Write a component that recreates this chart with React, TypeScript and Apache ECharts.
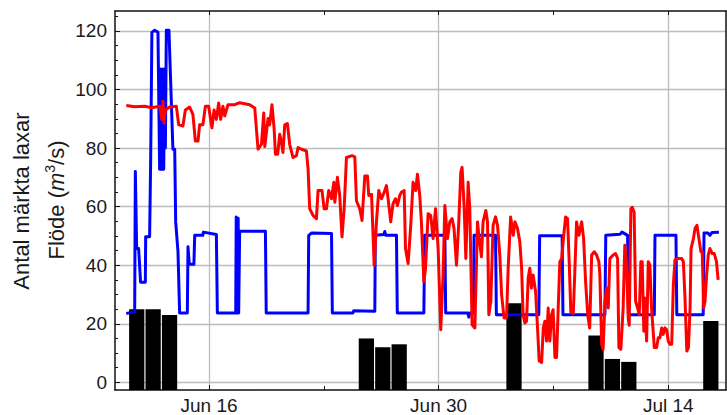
import { useEffect, useRef } from 'react';
import * as echarts from 'echarts';

// x values are days counted in June (Jun 16 = 16, Jul 14 = 44)
const X_MIN = 10.27;
const X_MAX = 47.52;
const Y_MIN = -2.6;
const Y_MAX = 126.8;

const xMajorTicks = [16, 30, 44];
const xMinorTicks = [23, 37];
const xTopTicks = [16, 23, 30, 37, 44];
const yMajorTicks = [0, 20, 40, 60, 80, 100, 120];
const yMinorTicks = [5, 10, 15, 25, 30, 35, 45, 50, 55, 65, 70, 75, 85, 90, 95, 105, 110, 115, 125];

// Number of tagged salmon per day
const barDays = [11, 12, 13, 25, 26, 27, 34, 39, 40, 41, 46];
const barCounts = [25, 25, 23, 15, 12, 13, 27, 16, 8, 7, 21];

// Flow (m3/s), blue series: [day, flow]
const blueFlow: [number, number][] = [
  [10.96, 23.5], [11.36, 24], [11.47, 24], [11.51, 72], [11.59, 45.7], [11.71, 45.7],
  [11.83, 34.2], [12.12, 34.2], [12.14, 49.7], [12.38, 49.7], [12.44, 74], [12.52, 119.5],
  [12.69, 120.2], [12.89, 119.5], [12.99, 72.8], [13.05, 107], [13.08, 72.8], [13.12, 104],
  [13.16, 72.8], [13.2, 107], [13.24, 72.8], [13.3, 107], [13.34, 80], [13.4, 120.2],
  [13.56, 120.2], [13.8, 79.6], [13.91, 79.6], [13.97, 54.8], [14.11, 44.6], [14.21, 23.7],
  [14.68, 23.7], [14.72, 46.3], [14.8, 40.3], [15.08, 40.3], [15.13, 50.2], [15.62, 50.2],
  [15.66, 51.3], [16.45, 50.5], [16.51, 23.7], [17.63, 23.7], [17.66, 56.5], [17.69, 23.7],
  [17.72, 52], [17.75, 23.7], [17.78, 56], [17.81, 23.7], [17.87, 51.6], [19.44, 51.6],
  [19.49, 23.7], [22.04, 23.7], [22.08, 50.2], [22.26, 51], [23.47, 50.8], [23.52, 23.7],
  [24.77, 23.7], [24.83, 24.5], [26.11, 24.3], [26.14, 50.2], [26.66, 50.5], [26.72, 51.5],
  [26.78, 50.2], [27.43, 50.2], [27.48, 23.7], [29.1, 23.7], [29.15, 50.2], [30.38, 50.2],
  [30.43, 23.7], [31.78, 23.7], [31.84, 22.3], [31.9, 23.7], [32.12, 23.7], [32.16, 50.2],
  [33.47, 50.2], [33.52, 23.1], [36.11, 23.1], [36.16, 50.1], [37.53, 50.1], [37.58, 23.1],
  [40.14, 23.1], [40.19, 50.2], [41.06, 50.6], [41.18, 51.3], [41.52, 50.2], [41.57, 23.1],
  [43.15, 23.1], [43.19, 50.2], [44.47, 50.2], [44.52, 23.1], [46.13, 23.1], [46.18, 51],
  [46.42, 51], [46.54, 50.2], [46.67, 51.2], [47.09, 51.3],
];

// Flow (m3/s), red series: [day, flow]
const redFlow: [number, number][] = [
  [10.96, 94.5], [11.47, 94.1], [12.08, 94.3], [12.49, 93.8], [12.99, 94.3], [13.13, 89.8],
  [13.19, 96], [13.26, 88.6], [13.34, 93], [13.6, 94], [14.01, 94.3], [14.15, 88],
  [14.41, 87.5], [14.56, 93], [14.82, 94], [15.02, 91.5], [15.17, 82.4], [15.33, 82.4],
  [15.43, 88], [15.63, 88], [15.78, 94.3], [15.98, 94.3], [16.18, 86.9], [16.31, 93],
  [16.45, 89.8], [16.59, 95.4], [16.71, 89.8], [16.85, 94.3], [16.96, 91], [17.16, 94.8],
  [17.57, 94.8], [17.87, 95.5], [18.48, 94.8], [18.79, 93.7], [18.99, 79.6], [19.2, 81.3],
  [19.34, 92], [19.4, 80.5], [19.6, 90.1], [19.7, 87.9], [19.84, 94.8], [19.97, 86.7],
  [20.05, 77.9], [20.19, 77.9], [20.31, 84.7], [20.42, 81.9], [20.51, 78.5], [20.62, 87.9],
  [20.78, 88.4], [20.92, 81.3], [21.12, 76.8], [21.33, 77.4], [21.43, 80.2], [21.64, 79.6],
  [21.94, 79], [22.04, 73], [22.14, 59.3], [22.34, 57], [22.55, 55.9], [22.65, 65.5],
  [22.89, 65.5], [23.02, 59.3], [23.16, 59.3], [23.3, 65.5], [23.47, 62.7], [23.61, 68.3],
  [23.67, 61.5], [23.83, 70], [23.97, 63.8], [24.11, 49.7], [24.24, 59.3], [24.38, 76.8],
  [24.72, 77.4], [24.89, 77], [24.99, 62], [25.19, 59.3], [25.33, 55.3], [25.5, 70.5],
  [25.66, 70.5], [25.74, 63.8], [25.91, 64.2], [26.07, 40], [26.21, 54.8], [26.35, 65.5],
  [26.52, 62.7], [26.68, 64.9], [26.82, 67.2], [26.92, 62.7], [27.08, 54.8], [27.22, 61],
  [27.37, 62.7], [27.49, 60.4], [27.63, 63.8], [27.74, 65], [27.9, 65.5], [27.98, 45.7],
  [28.14, 40.6], [28.3, 53.6], [28.44, 68.3], [28.6, 65.5], [28.71, 71.1], [28.85, 63.8],
  [28.95, 54.8], [29.1, 34.4], [29.2, 38.9], [29.36, 57.6], [29.52, 57], [29.66, 49.1],
  [29.81, 59.3], [29.97, 45.7], [30.13, 18], [30.27, 36.7], [30.38, 60.4], [30.54, 49.1],
  [30.68, 54.8], [30.82, 55.9], [30.94, 52.5], [31.09, 40], [31.23, 54.8], [31.35, 71.7],
  [31.43, 73.4], [31.56, 59.3], [31.66, 42.3], [31.8, 68.3], [31.9, 59.3], [32.04, 19.7],
  [32.21, 18.6], [32.37, 54.8], [32.45, 50.2], [32.61, 42.9], [32.71, 54.8], [32.88, 58.7],
  [32.98, 54.8], [33.06, 23.1], [33.18, 27.6], [33.32, 53.6], [33.47, 56.5], [33.59, 53.6],
  [33.73, 43.5], [33.84, 29.9], [33.99, 22], [34.14, 22], [34.24, 39], [34.39, 56.5],
  [34.55, 50.2], [34.65, 54.8], [34.81, 52.5], [34.95, 48], [35.06, 39], [35.15, 23.1],
  [35.26, 20.3], [35.36, 20.9], [35.46, 35.6], [35.56, 39], [35.66, 32.2], [35.76, 36.7],
  [35.91, 31.1], [36.03, 18.6], [36.13, 7.3], [36.28, 6.8], [36.38, 18.6], [36.48, 20.9],
  [36.58, 14.1], [36.68, 25.4], [36.78, 14.1], [36.89, 23.1], [36.98, 24.8], [37.09, 8.5],
  [37.19, 8.5], [37.29, 25.4], [37.39, 41.2], [37.5, 42.3], [37.59, 48], [37.74, 56.5],
  [37.86, 55.9], [37.96, 41.2], [38.06, 24], [38.21, 23.5], [38.31, 38.9], [38.41, 54.8],
  [38.55, 50.2], [38.72, 54.8], [38.84, 49.1], [38.96, 34.4], [39.09, 23.1], [39.21, 18.6],
  [39.33, 43.5], [39.49, 44.6], [39.63, 43.5], [39.77, 41.2], [39.83, 36.7], [39.94, 13],
  [40.03, 11.3], [40.14, 27.7], [40.24, 32.2], [40.34, 25.4], [40.44, 42.3], [40.64, 43.5],
  [40.79, 44], [40.91, 42.3], [40.99, 11.9], [41.11, 11.3], [41.25, 25.4], [41.35, 46.8],
  [41.46, 40], [41.56, 21.8], [41.62, 19.5], [41.72, 59.3], [41.8, 59.8], [41.92, 58.1],
  [42.01, 27.7], [42.13, 25.4], [42.23, 23.1], [42.33, 41.2], [42.41, 41.2], [42.51, 17.5],
  [42.57, 28.8], [42.68, 14.1], [42.78, 41.2], [42.88, 40], [42.98, 25.4], [43.15, 11.9],
  [43.29, 11.9], [43.39, 15.2], [43.49, 15.2], [43.6, 18.6], [43.69, 16.4], [43.8, 18.6],
  [43.9, 18], [44, 14.1], [44.1, 13], [44.21, 13], [44.31, 33.3], [44.41, 41.8],
  [44.61, 42.3], [44.82, 42.3], [44.92, 41.2], [45.02, 28.8], [45.13, 10.7], [45.23, 11.9],
  [45.33, 25.4], [45.39, 45.7], [45.53, 49], [45.63, 52.5], [45.75, 53.6], [45.87, 49],
  [45.99, 44.6], [46.07, 44.6], [46.16, 25.4], [46.24, 27.7], [46.34, 36.7], [46.44, 43.5],
  [46.54, 45.7], [46.68, 44], [46.8, 44], [46.94, 41.2], [47.04, 35],
];

const FONT = '"Liberation Sans", Arial, sans-serif';
const AXIS_COLOR = '#111';
const GRID_COLOR = '#bdbdbd';
const LINE_WIDTH = 3;
const TITLE_SIZE = 22;

const dayLabel = (v: number) => (v <= 30 ? `Jun ${v}` : `Jul ${v - 30}`);

const baseX = {
  type: 'value' as const,
  min: X_MIN,
  max: X_MAX,
};
const baseY = {
  type: 'value' as const,
  min: Y_MIN,
  max: Y_MAX,
};

const option: any = {
  animation: false,
  backgroundColor: '#fff',
  grid: { left: 115, right: 1, top: 11, bottom: 22 },
  xAxis: [
    {
      ...baseX,
      position: 'bottom',
      axisLine: { show: true, onZero: false, lineStyle: { color: AXIS_COLOR, width: 1.5 } },
      axisTick: { show: true, inside: true, length: 5, customValues: xMajorTicks, lineStyle: { color: AXIS_COLOR } },
      axisLabel: {
        show: true,
        customValues: xMajorTicks,
        formatter: (v: number) => dayLabel(v),
        fontSize: 19,
        fontFamily: FONT,
        color: '#1a1a1a',
        margin: 6,
      },
      splitLine: { show: true, lineStyle: { color: GRID_COLOR, width: 1.3 } },
    },
    {
      ...baseX,
      position: 'bottom',
      axisLine: { show: false, onZero: false },
      axisTick: { show: true, inside: true, length: 4, customValues: xMinorTicks, lineStyle: { color: AXIS_COLOR } },
      axisLabel: { show: false },
      splitLine: { show: false },
    },
    {
      ...baseX,
      position: 'top',
      axisLine: { show: true, onZero: false, lineStyle: { color: AXIS_COLOR, width: 1.5 } },
      axisTick: { show: true, inside: true, length: 4, customValues: xTopTicks, lineStyle: { color: AXIS_COLOR } },
      axisLabel: { show: false },
      splitLine: { show: false },
    },
  ],
  yAxis: [
    {
      ...baseY,
      position: 'left',
      axisLine: { show: true, onZero: false, lineStyle: { color: AXIS_COLOR, width: 1.5 } },
      axisTick: { show: true, inside: true, length: 5, customValues: yMajorTicks, lineStyle: { color: AXIS_COLOR } },
      axisLabel: {
        show: true,
        customValues: yMajorTicks,
        fontSize: 19,
        fontFamily: FONT,
        color: '#1a1a1a',
        margin: 8,
      },
      splitLine: { show: true, lineStyle: { color: GRID_COLOR, width: 1.3 } },
    },
    {
      ...baseY,
      position: 'left',
      axisLine: { show: false, onZero: false },
      axisTick: { show: true, inside: true, length: 3, customValues: yMinorTicks, lineStyle: { color: AXIS_COLOR } },
      axisLabel: { show: false },
      splitLine: { show: false },
    },
    {
      ...baseY,
      position: 'right',
      axisLine: { show: true, onZero: false, lineStyle: { color: AXIS_COLOR, width: 1.5 } },
      axisTick: { show: false },
      axisLabel: { show: false },
      splitLine: { show: false },
    },
  ],
  graphic: [
    {
      type: 'text',
      x: 21,
      y: 201,
      rotation: Math.PI / 2,
      style: {
        text: 'Antal märkta laxar',
        fontSize: TITLE_SIZE,
        fontFamily: FONT,
        fill: '#1a1a1a',
        align: 'center',
        verticalAlign: 'middle',
      },
    },
    {
      type: 'text',
      x: 56,
      y: 200,
      rotation: Math.PI / 2,
      style: {
        text: 'Flöde ({i|m}{s|3}/s)',
        fontSize: TITLE_SIZE,
        fontFamily: FONT,
        fill: '#1a1a1a',
        align: 'center',
        verticalAlign: 'middle',
        lineHeight: 27,
        rich: {
          i: { fontSize: TITLE_SIZE, fontFamily: FONT, fontStyle: 'italic', fill: '#1a1a1a', lineHeight: 27 },
          s: { fontSize: 14, fontFamily: FONT, fill: '#1a1a1a', verticalAlign: 'top', lineHeight: 15 },
        },
      },
    },
  ],
  series: [
    {
      type: 'custom',
      name: 'Antal märkta laxar',
      xAxisIndex: 0,
      yAxisIndex: 0,
      z: 1,
      clip: true,
      data: barDays.map((d, i) => [d, barCounts[i]]),
      encode: { x: 0, y: 1 },
      renderItem: (_params: any, api: any) => {
        const day = api.value(0);
        const n = api.value(1);
        const p0 = api.coord([day + 0.13, n]);
        const p1 = api.coord([day + 1.06, Y_MIN]);
        return {
          type: 'rect',
          shape: { x: p0[0], y: p0[1], width: p1[0] - p0[0], height: p1[1] - p0[1] },
          style: { fill: '#000' },
        };
      },
    },
    {
      type: 'line',
      name: 'Flöde blå',
      xAxisIndex: 0,
      yAxisIndex: 0,
      z: 3,
      data: blueFlow,
      showSymbol: false,
      symbol: 'none',
      lineStyle: { color: '#0000ff', width: LINE_WIDTH, join: 'round' },
      clip: true,
    },
    {
      type: 'line',
      name: 'Flöde röd',
      xAxisIndex: 0,
      yAxisIndex: 0,
      z: 4,
      data: redFlow,
      showSymbol: false,
      symbol: 'none',
      lineStyle: { color: '#ff0000', width: LINE_WIDTH, join: 'round' },
      clip: true,
    },
  ],
};

export default function App() {
  const ref = useRef<HTMLDivElement>(null);
  useEffect(() => {
    if (!ref.current) return;
    const chart = echarts.init(ref.current, null, { renderer: 'svg' });
    chart.setOption(option);
    return () => chart.dispose();
  }, []);
  return (
    <div
      ref={ref}
      style={{ position: 'fixed', left: 0, top: 0, width: 727, height: 415, background: '#fff' }}
    />
  );
}
